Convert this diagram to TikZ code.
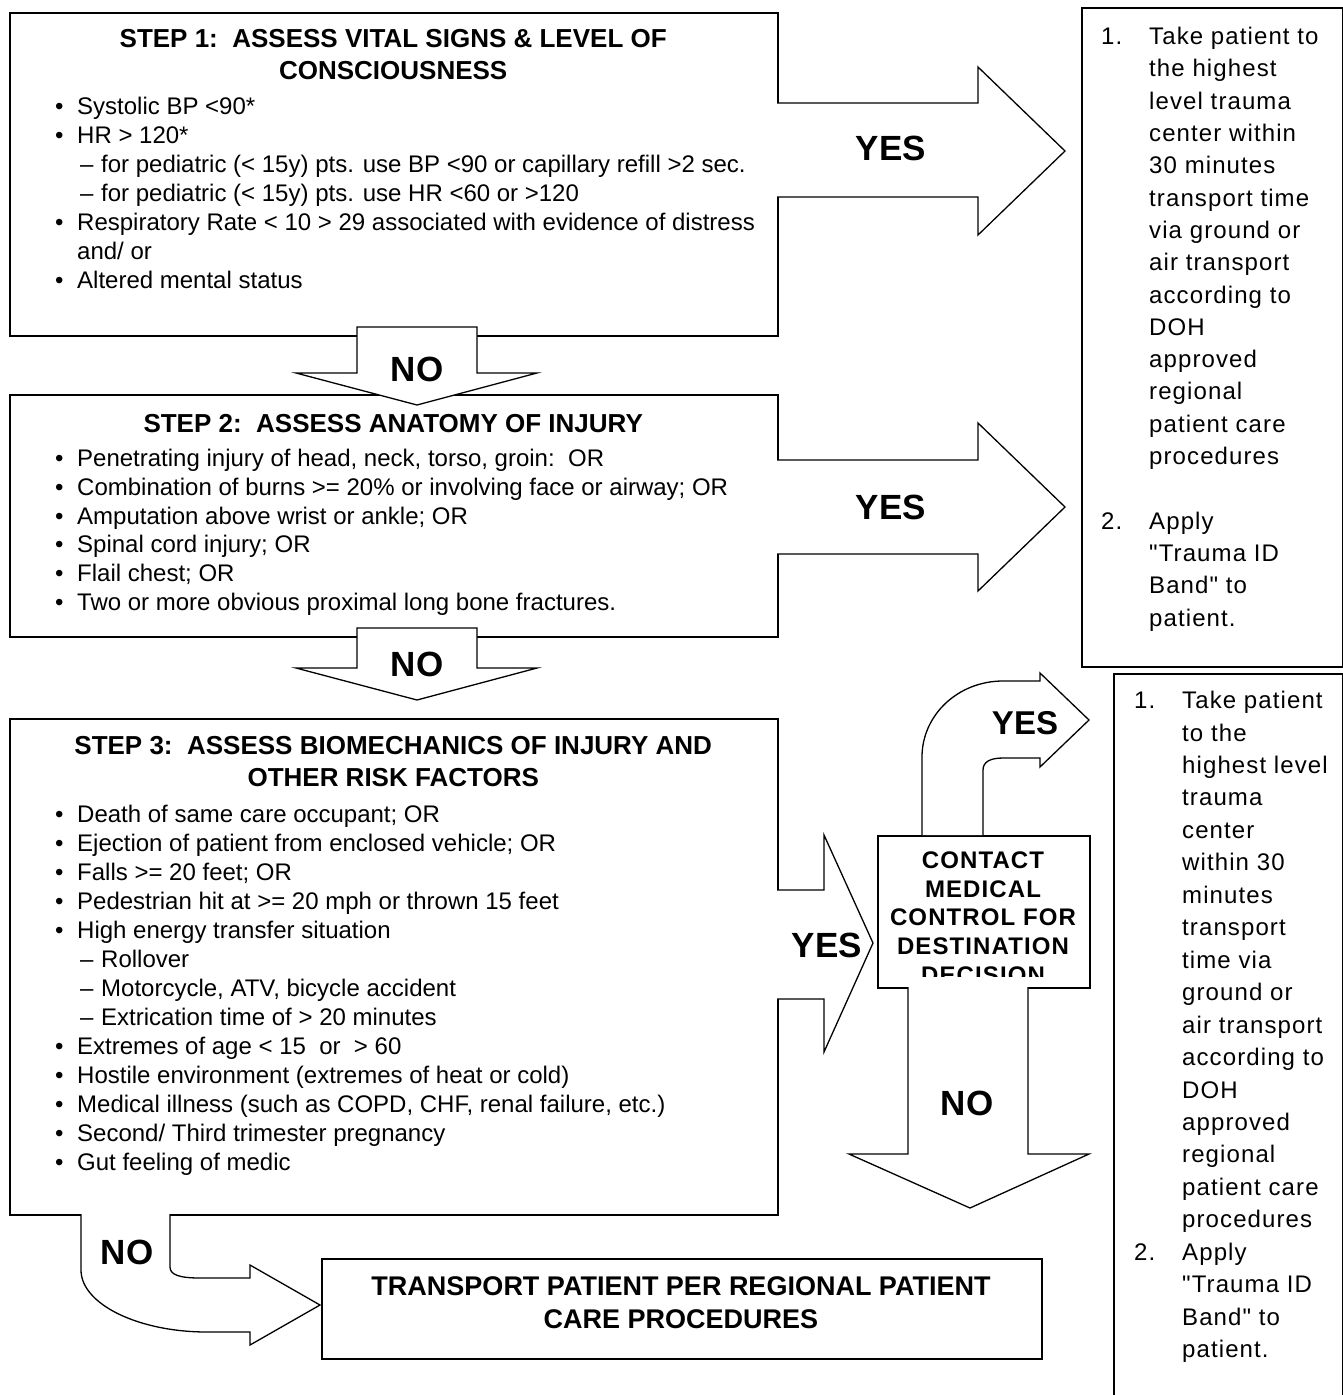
\documentclass[tikz,border=0pt]{standalone}
\usepackage{fontspec}
\setmainfont{Liberation Sans}
\newfontfamily\widefont[LetterSpace=4.6]{Liberation Sans}
\usetikzlibrary{positioning,calc}
\newcommand{\bitem}[1]{\par\hspace*{46pt}\makebox[22pt][l]{\textbullet}\mbox{#1}}
\newcommand{\ditem}[1]{\par\hspace*{71pt}\makebox[21pt][l]{\textendash}\mbox{#1}}
\newcommand{\citem}[1]{\par\hspace*{68pt}\mbox{#1}}
\newcommand{\numln}[2]{\par\makebox[48pt][l]{#1}\mbox{#2}}
\newcommand{\contln}[1]{\par\hspace*{48pt}\mbox{#1}}
\newcommand{\steptitle}[1]{{\fontsize{26}{32}\selectfont\bfseries\centering #1\par}}

\begin{document}
\begin{tikzpicture}[x=1pt,y=-1pt,
    box/.style={draw,line width=1.8pt,inner sep=0pt,anchor=north west},
    blk/.style={draw,fill=white,line width=1.3pt,line join=miter},
    yn/.style={font=\fontsize{35}{35}\selectfont\bfseries,inner sep=0pt},
    txt/.style={anchor=base west,inner sep=0pt},
    body/.style={font=\fontsize{24}{29}\selectfont}]
\useasboundingbox (0,0) rectangle (1343,1395);
\clip (0,0) rectangle (1343,1395);

\node[box,minimum width=768pt,minimum height=323pt] (step1) at (9,12) {};
\node[box,minimum width=768pt,minimum height=242pt] (step2) at (9,394) {};
\node[box,minimum width=768pt,minimum height=496pt] (step3) at (9,718) {};
\node[box,minimum width=261pt,minimum height=659pt] (right1) at (1081,7) {};
\node[box,minimum width=229pt,minimum height=740pt] (right2) at (1113,673) {};
\node[box,minimum width=212pt,minimum height=152pt] (contact) at (877,835) {};
\node[box,minimum width=720pt,minimum height=100pt] (transport) at (321,1258) {};

\node[txt] (step1txt) at (9,47.3) {\parbox[t]{768pt}{%
  \steptitle{STEP 1:\ \ ASSESS VITAL SIGNS \& LEVEL OF\\CONSCIOUSNESS}\vspace{6.3pt}
  \fontsize{24}{29}\selectfont
  \bitem{Systolic BP <90*}
  \bitem{HR > 120*}
  \ditem{for pediatric (< 15y) pts. use BP <90 or capillary refill >2 sec.}
  \ditem{for pediatric (< 15y) pts. use HR <60 or >120}
  \bitem{Respiratory Rate < 10 > 29 associated with evidence of distress}
  \citem{and/ or}
  \bitem{Altered mental status}}};

\node[txt] (step2txt) at (9,432.3) {\parbox[t]{768pt}{%
  \steptitle{STEP 2:\ \ ASSESS ANATOMY OF INJURY}\vspace{5.3pt}
  \fontsize{24}{28.8}\selectfont
  \bitem{Penetrating injury of head, neck, torso, groin:\ \ OR}
  \bitem{Combination of burns >= 20\% or involving face or airway; OR}
  \bitem{Amputation above wrist or ankle; OR}
  \bitem{Spinal cord injury; OR}
  \bitem{Flail chest; OR}
  \bitem{Two or more obvious proximal long bone fractures.}}};

\node[txt] (step3txt) at (9,754.3) {\parbox[t]{768pt}{%
  \steptitle{STEP 3:\ \ ASSESS BIOMECHANICS OF INJURY AND\\OTHER RISK FACTORS}\vspace{7.3pt}
  \fontsize{24}{29}\selectfont
  \bitem{Death of same care occupant; OR}
  \bitem{Ejection of patient from enclosed vehicle; OR}
  \bitem{Falls >= 20 feet; OR}
  \bitem{Pedestrian hit at >= 20 mph or thrown 15 feet}
  \bitem{High energy transfer situation}
  \ditem{Rollover}
  \ditem{Motorcycle, ATV, bicycle accident}
  \ditem{Extrication time of > 20 minutes}
  \bitem{Extremes of age < 15\ \ or\ \ > 60}
  \bitem{Hostile environment (extremes of heat or cold)}
  \bitem{Medical illness (such as COPD, CHF, renal failure, etc.)}
  \bitem{Second/ Third trimester pregnancy}
  \bitem{Gut feeling of medic}}};

\node[txt] (right1txt) at (1101,44.6) {\parbox[t]{240pt}{%
  \fontsize{24}{32.3}\selectfont\widefont
  \numln{1.}{Take patient to}
  \contln{the highest}
  \contln{level trauma}
  \contln{center within}
  \contln{30 minutes}
  \contln{transport time}
  \contln{via ground or}
  \contln{air transport}
  \contln{according to}
  \contln{DOH}
  \contln{approved}
  \contln{regional}
  \contln{patient care}
  \contln{procedures}
  \contln{}
  \numln{2.}{Apply}
  \contln{"Trauma ID}
  \contln{Band" to}
  \contln{patient.}}};

\node[txt] (right2txt) at (1134,708.6) {\parbox[t]{220pt}{%
  \fontsize{24}{32.45}\selectfont\widefont
  \numln{1.}{Take patient}
  \contln{to the}
  \contln{highest level}
  \contln{trauma}
  \contln{center}
  \contln{within 30}
  \contln{minutes}
  \contln{transport}
  \contln{time via}
  \contln{ground or}
  \contln{air transport}
  \contln{according to}
  \contln{DOH}
  \contln{approved}
  \contln{regional}
  \contln{patient care}
  \contln{procedures}
  \numln{2.}{Apply}
  \contln{"Trauma ID}
  \contln{Band" to}
  \contln{patient.}}};

\node[anchor=base,inner sep=0pt] (transtxt) at (681,1295.7) {\parbox[t]{720pt}{%
  \fontsize{27}{33}\selectfont\bfseries\centering
  TRANSPORT PATIENT PER REGIONAL PATIENT\\CARE PROCEDURES}};

\begin{scope}
\clip (877,835) rectangle (1089,976);
\node[anchor=base,inner sep=0pt] (contacttxt) at (983,868.6) {\parbox[t]{212pt}{%
  \fontsize{24}{28.6}\selectfont\widefont\bfseries\centering
  CONTACT\\MEDICAL\\CONTROL FOR\\DESTINATION\\DECISION}};
\end{scope}

\filldraw[blk] (357,327) -- (357,373) -- (296,373) -- (417,405) -- (537,373) -- (477,373) -- (477,327) -- cycle;
\filldraw[blk] (357,628) -- (357,668) -- (296,668) -- (417,700) -- (537,668) -- (477,668) -- (477,628) -- cycle;
\filldraw[blk] (777,103) -- (978,103) -- (978,67) -- (1065,151) -- (978,235) -- (978,197) -- (777,197);
\filldraw[blk] (777,460) -- (978,460) -- (978,423) -- (1065,507) -- (978,591) -- (978,554) -- (777,554);
\filldraw[blk] (777,890) -- (824,890) -- (824,835) -- (873,943) -- (824,1052) -- (824,999) -- (777,999);
\filldraw[blk] (922,835) -- (922,757) .. controls (922,715) and (958,681) .. (1003,681) -- (1040,681) -- (1040,673) -- (1089,720) -- (1040,767) -- (1040,758) -- (1003,758) .. controls (990,758) and (983,762) .. (983,770) -- (983,835);
\filldraw[blk] (908,987) -- (908,1154) -- (849,1154) -- (970,1208) -- (1089,1154) -- (1028,1154) -- (1028,987);
\filldraw[blk] (81,1214) -- (81,1270) .. controls (81,1304) and (138,1332) .. (207,1332) -- (250,1332) -- (250,1345) -- (320,1305) -- (250,1265) -- (250,1278) -- (200,1278) .. controls (180,1278) and (170,1275) .. (170,1267) -- (170,1214);

\node[yn] (no1) at (417,369) {NO};
\node[yn] (no2) at (417,664) {NO};
\node[yn] (yes1) at (891,148) {YES};
\node[yn] (yes2) at (891,507) {YES};
\node[yn] (yes3) at (827,945) {YES};
\node[yn,font=\fontsize{33}{33}\selectfont\bfseries] (yes4) at (1025,723) {YES};
\node[yn] (no3) at (967,1103) {NO};
\node[yn] (no4) at (127,1252) {NO};
\end{tikzpicture}
\end{document}
